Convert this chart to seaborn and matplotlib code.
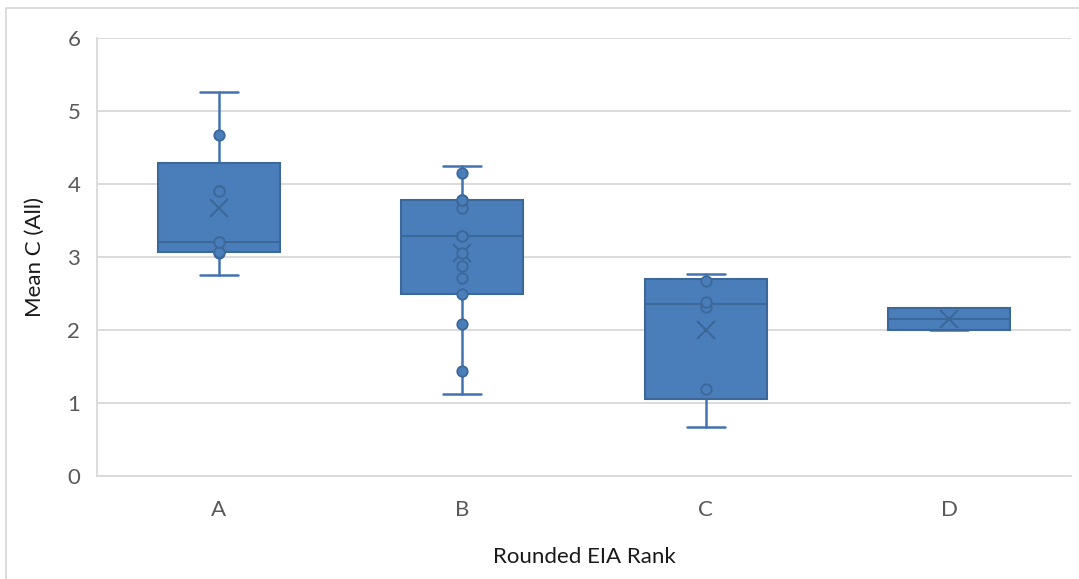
import numpy as np
import pandas as pd
import matplotlib
matplotlib.use("Agg")
import matplotlib.pyplot as plt
from matplotlib.patches import Rectangle
import seaborn as sns

# values (Excel box & whisker, exclusive quartiles)
categories = ["A", "B", "C", "D"]
rank_a = [2.76, 3.06, 3.07, 3.20, 3.20, 3.90, 3.90, 4.67, 5.26]
rank_b = [1.12, 1.44, 2.08, 2.50, 2.71, 2.88, 3.05, 3.29,
          3.29, 3.67, 3.78, 3.78, 3.78, 4.15, 4.24]
rank_c = [0.67, 1.19, 2.32, 2.38, 2.67, 2.77]
rank_d = [2.00, 2.30]
y_ticks = [0, 1, 2, 3, 4, 5, 6]

groups = dict(zip(categories, [rank_a, rank_b, rank_c, rank_d]))
df = pd.DataFrame([(k, v) for k, vals in groups.items() for v in vals],
                  columns=["rank", "value"])

FILL = "#4A7EBB"
EDGE = "#3C6799"
LINE = "#4472B0"
GRID = "#D9D9D9"
TXT = "#595959"

sns.set_theme(style="white")
plt.rcParams["font.family"] = ["Lato", "DejaVu Sans"]

fig = plt.figure(figsize=(10.79, 5.79), dpi=100)
ax = fig.add_axes([97 / 1079, 1 - 476 / 579, (1071 - 97) / 1079, (476 - 38) / 579])

# box stats like Excel's "exclusive median" quartiles
stats = []
for k in categories:
    vals = np.array(groups[k])
    q1, med, q3 = np.percentile(vals, [25, 50, 75], method="weibull")
    stats.append(dict(label=k, q1=q1, med=med, q3=q3, mean=vals.mean(),
                      whislo=vals.min(), whishi=vals.max(), fliers=[]))

# inner points (Excel hides the whisker end points)
inner = df[df.groupby("rank")["value"].transform(
    lambda s: (s > s.min()) & (s < s.max()))]

ax.bxp(stats, positions=range(len(categories)), widths=0.5, capwidths=0.155,
       showmeans=True, showfliers=False, patch_artist=True, manage_ticks=False,
       boxprops=dict(facecolor=FILL, edgecolor=EDGE, linewidth=1.5, zorder=2.5),
       medianprops=dict(color=EDGE, linewidth=1.5, zorder=2.6),
       whiskerprops=dict(color=LINE, linewidth=1.8, zorder=2),
       capprops=dict(color=LINE, linewidth=1.8, zorder=2),
       meanprops=dict(marker="x", markersize=13, markeredgecolor=EDGE,
                      markeredgewidth=1.5, zorder=2.7))

sns.stripplot(data=inner, x="rank", y="value", order=categories, jitter=False,
              color=FILL, edgecolor=EDGE, linewidth=1.3, size=7.5, ax=ax,
              zorder=4)

ax.set_xlim(-0.5, len(categories) - 0.5)
ax.set_ylim(0, 6)
ax.set_xticks(range(len(categories)))
ax.set_xticklabels(categories)
ax.set_yticks(y_ticks)
ax.yaxis.grid(True, color=GRID, linewidth=1.3)
ax.set_axisbelow(True)
for s in ["top", "right"]:
    ax.spines[s].set_visible(False)
for s in ["left", "bottom"]:
    ax.spines[s].set_color(GRID)
    ax.spines[s].set_linewidth(1.3)
ax.tick_params(axis="both", length=0, labelsize=16, labelcolor=TXT)
ax.tick_params(axis="x", pad=17)
ax.tick_params(axis="y", pad=12)
ax.set_xlabel("Rounded EIA Rank", fontsize=16, color="#1A1A1A", labelpad=20)
ax.set_ylabel("Mean C (All)", fontsize=16, color="#1A1A1A", labelpad=16)

# chart-area border
fig.patches.append(Rectangle((6 / 1079, -0.05), 1.2, 1 - 8 / 579 + 0.05,
                             transform=fig.transFigure, fill=False,
                             edgecolor=GRID, linewidth=1.3))

fig.savefig("out.png", dpi=100)
